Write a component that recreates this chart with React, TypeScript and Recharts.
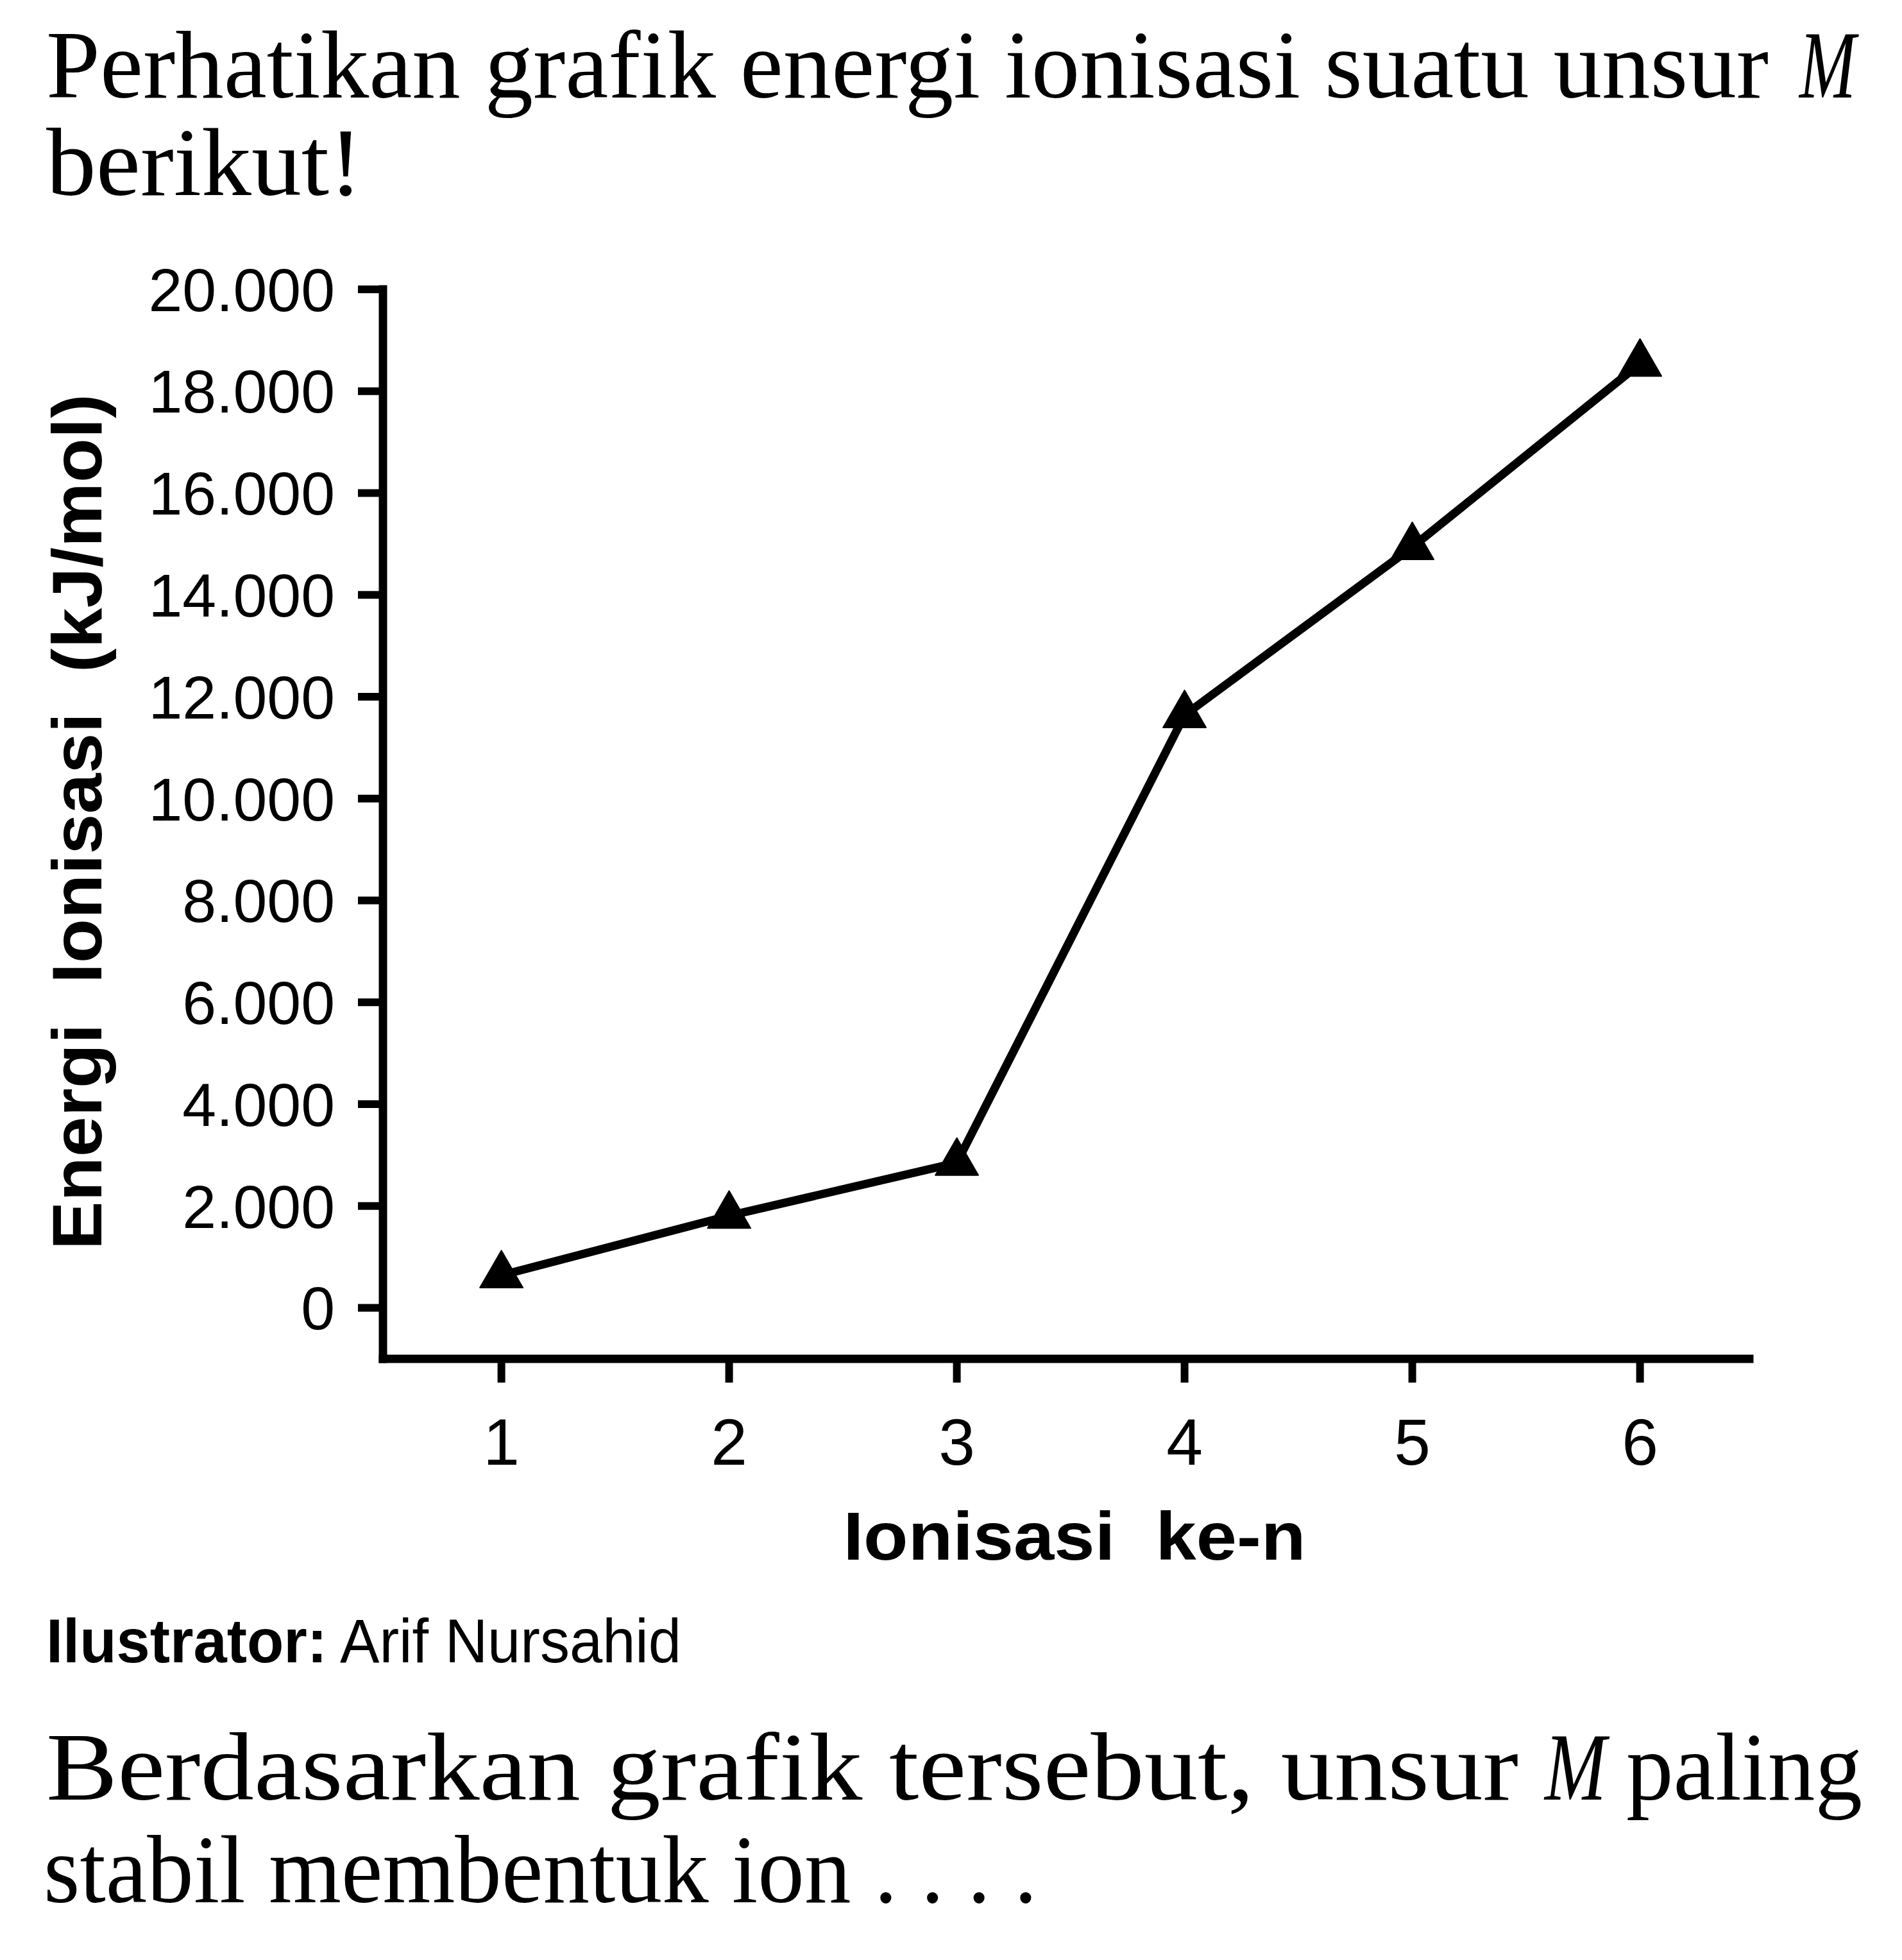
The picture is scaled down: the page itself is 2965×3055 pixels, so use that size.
import React from 'react';
import { LineChart, Line, XAxis, YAxis } from 'recharts';

// ---- data ----
const ionizationSteps = [1, 2, 3, 4, 5, 6];
const ionizationEnergy = [640, 1810, 2850, 11640, 14940, 18540];
const xTickLabels = ['1', '2', '3', '4', '5', '6'];
const yTicks = [0, 2000, 4000, 6000, 8000, 10000, 12000, 14000, 16000, 18000, 20000];
const yTickLabels = ['0', '2.000', '4.000', '6.000', '8.000', '10.000', '12.000', '14.000', '16.000', '18.000', '20.000'];

const data = ionizationSteps.map((n, i) => ({ n, e: ionizationEnergy[i] }));

const SANS = '"Liberation Sans", Arial, Helvetica, sans-serif';
const SERIF = '"Liberation Serif", "Times New Roman", serif';
const INK = '#000';

const TriangleDot = (props: any) => {
  const { cx, cy, index } = props;
  if (cx == null || cy == null) return null;
  const r = 19.3;
  const s = Math.sqrt(3) * r;
  return (
    <path
      key={`tri-${index}`}
      d={`M${cx},${cy - 2 * r}L${cx + s},${cy + r}L${cx - s},${cy + r}Z`}
      fill={INK}
      stroke={INK}
      strokeWidth={2}
      strokeLinejoin="round"
    />
  );
};

const YTitle = (props: any) => {
  const vb = props.viewBox || { x: 0, y: 451, width: 597, height: 1667 };
  const bx = vb.x + 158;
  const cy = 1281;
  return (
    <text
      x={bx}
      y={cy}
      transform={`rotate(-90 ${bx} ${cy})`}
      textAnchor="middle"
      fontFamily={SANS}
      fontWeight="bold"
      fontSize={110}
      fill={INK}
      textLength={1334}
      lengthAdjust="spacingAndGlyphs"
      style={{ whiteSpace: 'pre' }}
    >
      Energi  Ionisasi  (kJ/mol)
    </text>
  );
};

const XTitle = () => {
  return (
    <text
      x={1675}
      y={2431}
      textAnchor="middle"
      fontFamily={SANS}
      fontWeight="bold"
      fontSize={106}
      fill={INK}
      textLength={721}
      lengthAdjust="spacingAndGlyphs"
      style={{ whiteSpace: 'pre' }}
    >
      Ionisasi  ke-n
    </text>
  );
};

export default function App() {
  return (
    <div style={{ position: 'absolute', left: 0, top: 0, width: 2965, height: 3055, background: '#fff' }}>
      <LineChart
        width={2965}
        height={3055}
        data={data}
        margin={{ top: 451, right: 238, bottom: 637, left: 0 }}
      >
        <XAxis
          type="number"
          dataKey="n"
          domain={[0.48, 6.48]}
          ticks={ionizationSteps}
          interval={0}
          allowDataOverflow
          height={300}
          tickFormatter={(v: number) => xTickLabels[ionizationSteps.indexOf(v)] ?? String(v)}
          axisLine={{ stroke: INK, strokeWidth: 13, strokeLinecap: 'square' }}
          tickLine={{ stroke: INK, strokeWidth: 12 }}
          tickSize={37}
          tickMargin={56}
          tick={{ fill: INK, fontSize: 102, fontFamily: SANS }}
          label={<XTitle />}
        />
        <YAxis
          type="number"
          dataKey="e"
          domain={[-1000, 20000]}
          ticks={yTicks}
          interval={0}
          allowDataOverflow
          width={597}
          tickFormatter={(v: number) => yTickLabels[yTicks.indexOf(v)] ?? String(v)}
          axisLine={{ stroke: INK, strokeWidth: 13, strokeLinecap: 'square' }}
          tickLine={{ stroke: INK, strokeWidth: 12 }}
          tickSize={39}
          tickMargin={36}
          tick={{ fill: INK, fontSize: 95, fontFamily: SANS }}
          label={<YTitle />}
        />
        <Line
          type="linear"
          dataKey="e"
          stroke={INK}
          strokeWidth={13}
          strokeLinejoin="round"
          dot={TriangleDot}
          activeDot={false}
          isAnimationActive={false}
        />
      </LineChart>
      <svg
        width={2965}
        height={3055}
        style={{ position: 'absolute', left: 0, top: 0, pointerEvents: 'none' }}
      >
        <g fill={INK} fontFamily={SERIF} fontSize={150}>
          <text x={72} y={152} textLength={2685} lengthAdjust="spacingAndGlyphs">
            Perhatikan grafik energi ionisasi suatu unsur
          </text>
          <text x={2805} y={152} fontStyle="italic" textLength={88} lengthAdjust="spacingAndGlyphs">
            M
          </text>
          <text x={72} y={304} textLength={493} lengthAdjust="spacingAndGlyphs">
            berikut!
          </text>
          <text x={72} y={2805} textLength={2295} lengthAdjust="spacingAndGlyphs">
            Berdasarkan grafik tersebut, unsur
          </text>
          <text x={2408} y={2805} fontStyle="italic" textLength={96} lengthAdjust="spacingAndGlyphs">
            M
          </text>
          <text x={2535} y={2805} textLength={368} lengthAdjust="spacingAndGlyphs">
            paling
          </text>
          <text x={68} y={2965} textLength={1549} lengthAdjust="spacingAndGlyphs">
            stabil membentuk ion . . . .
          </text>
        </g>
        <g fill={INK} fontFamily={SANS} fontSize={97}>
          <text x={72} y={2591} fontWeight="bold" textLength={438} lengthAdjust="spacingAndGlyphs">
            Ilustrator:
          </text>
          <text x={530} y={2591} textLength={532} lengthAdjust="spacingAndGlyphs">
            Arif Nursahid
          </text>
        </g>
      </svg>
    </div>
  );
}
